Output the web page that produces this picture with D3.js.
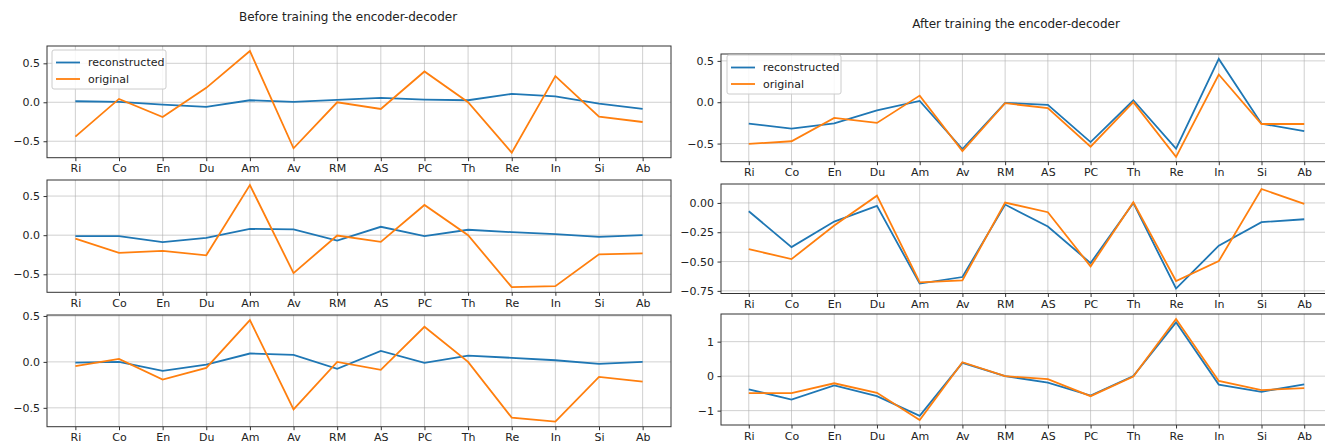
<!DOCTYPE html>
<meta charset="utf-8">
<script src="https://d3js.org/d3.v7.min.js"></script>
<style>
  body { margin: 0; background: #fff; }
  text { font-family: "DejaVu Sans", sans-serif; fill: #222; }
</style>
<div id="my_dataviz"></div>
<script>

// categories on the x axis
var categories = ["Ri","Co","En","Du","Am","Av","RM","AS","PC","Th","Re","In","Si","Ab"];

// before training (left column)
var before1Rec  = [0.013, 0.004, -0.03, -0.06, 0.026, 0.005, 0.03, 0.056, 0.035, 0.026, 0.107, 0.077, -0.017, -0.086];
var before1Orig = [-0.44, 0.043, -0.19, 0.185, 0.657, -0.59, 0.0, -0.086, 0.395, 0.0, -0.646, 0.335, -0.185, -0.253];
var before2Rec  = [-0.013, -0.013, -0.09, -0.034, 0.08, 0.073, -0.069, 0.107, -0.013, 0.069, 0.039, 0.013, -0.021, 0.0];
var before2Orig = [-0.043, -0.227, -0.2, -0.257, 0.64, -0.485, -0.004, -0.086, 0.386, 0.0, -0.665, -0.652, -0.245, -0.232];
var before3Rec  = [-0.007, 0.0, -0.098, -0.029, 0.091, 0.076, -0.076, 0.12, -0.011, 0.069, 0.044, 0.018, -0.022, 0.0];
var before3Orig = [-0.047, 0.033, -0.193, -0.065, 0.455, -0.516, 0.0, -0.087, 0.382, 0.0, -0.607, -0.65, -0.164, -0.215];

// after training (right column)
var after1Rec  = [-0.259, -0.319, -0.255, -0.1, 0.016, -0.566, -0.008, -0.032, -0.482, 0.024, -0.56, 0.524, -0.259, -0.35];
var after1Orig = [-0.504, -0.472, -0.19, -0.25, 0.08, -0.59, -0.012, -0.072, -0.538, 0.0, -0.66, 0.335, -0.263, -0.263];
var after2Rec  = [-0.071, -0.377, -0.159, -0.025, -0.688, -0.632, -0.014, -0.201, -0.513, 0.0, -0.73, -0.365, -0.164, -0.139];
var after2Orig = [-0.394, -0.479, -0.193, 0.062, -0.677, -0.66, 0.003, -0.079, -0.541, 0.006, -0.666, -0.496, 0.119, -0.008];
var after3Rec  = [-0.384, -0.68, -0.266, -0.58, -1.153, 0.384, 0.0, -0.187, -0.562, 0.0, 1.56, -0.246, -0.453, -0.236];
var after3Orig = [-0.493, -0.493, -0.207, -0.483, -1.27, 0.404, 0.0, -0.089, -0.581, -0.01, 1.655, -0.138, -0.404, -0.345];

// y tick values
var ticksHalf    = [-0.5, 0, 0.5];
var ticksQuarter = [-0.75, -0.5, -0.25, 0];
var ticksOne     = [-1, 0, 1];

var titles = ["Before training the encoder-decoder", "After training the encoder-decoder"];
var legendLabels = ["reconstructed", "original"];

var blue = "#1f77b4", orange = "#ff7f0e";

var svg = d3.select("#my_dataviz")
  .append("svg")
    .attr("width", 1325)
    .attr("height", 443);

function minusFmt(f) {
  return function(d) { return d3.format(f)(d).replace("-", "\u2212"); };
}

var panels = [
  {x0: 47, x1: 671, y0: 46, y1: 157.7, rec: before1Rec, orig: before1Orig, ticks: ticksHalf, fmt: minusFmt(".1f"), legend: {x: 52, y: 50}},
  {x0: 47, x1: 671, y0: 180, y1: 292.3, rec: before2Rec, orig: before2Orig, ticks: ticksHalf, fmt: minusFmt(".1f")},
  {x0: 47, x1: 671, y0: 315, y1: 426.7, rec: before3Rec, orig: before3Orig, ticks: ticksHalf, fmt: minusFmt(".1f")},
  {x0: 721, x1: 1332, y0: 54, y1: 161.7, rec: after1Rec, orig: after1Orig, ticks: ticksHalf, fmt: minusFmt(".1f"), legend: {x: 727, y: 55}},
  {x0: 721, x1: 1332, y0: 184, y1: 293.5, rec: after2Rec, orig: after2Orig, ticks: ticksQuarter, fmt: d3.format(".2f")},
  {x0: 721, x1: 1332, y0: 314, y1: 425, rec: after3Rec, orig: after3Orig, ticks: ticksOne, fmt: minusFmt("d")}
];

panels.forEach(function(p) {
  var n = categories.length;
  var w = p.x1 - p.x0, h = p.y1 - p.y0;
  // matplotlib-like 5% margins
  var x = d3.scalePoint()
    .domain(categories)
    .range([w * 0.05 / 1.1, w - w * 0.05 / 1.1]);
  var ext = d3.extent(p.rec.concat(p.orig));
  var pad = (ext[1] - ext[0]) * 0.05;
  var y = d3.scaleLinear()
    .domain([ext[0] - pad, ext[1] + pad])
    .range([h, 0]);

  var g = svg.append("g")
    .attr("transform", "translate(" + p.x0 + "," + p.y0 + ")");

  // clip to the visible area
  var clipId = "clip" + p.x0 + "_" + p.y0;
  g.append("clipPath").attr("id", clipId)
    .append("rect").attr("width", w).attr("height", h);

  // grid
  g.selectAll(".vg").data(categories).enter().append("line")
    .attr("x1", function(d) { return x(d); })
    .attr("x2", function(d) { return x(d); })
    .attr("y1", 0).attr("y2", h)
    .attr("stroke", "#b0b0b0").attr("stroke-opacity", 0.6).attr("stroke-width", 1);
  g.selectAll(".hg").data(p.ticks).enter().append("line")
    .attr("x1", 0).attr("x2", w)
    .attr("y1", function(d) { return y(d); })
    .attr("y2", function(d) { return y(d); })
    .attr("stroke", "#b0b0b0").attr("stroke-opacity", 0.6).attr("stroke-width", 1);

  // axes
  var xa = g.append("g")
    .attr("transform", "translate(0," + h + ")")
    .call(d3.axisBottom(x).tickSize(3.5).tickPadding(3.5));
  var ya = g.append("g")
    .call(d3.axisLeft(y).tickValues(p.ticks).tickFormat(p.fmt).tickSize(3.5).tickPadding(3.5));
  [xa, ya].forEach(function(a) {
    a.select(".domain").remove();
    a.selectAll("line").attr("stroke", "#333");
    a.selectAll("text").style("font-size", "11px").attr("fill", "#333")
      .style("font-family", "'DejaVu Sans', sans-serif");
  });

  // lines
  var line = d3.line()
    .x(function(d, i) { return x(categories[i]); })
    .y(function(d) { return y(d); });
  var lg = g.append("g").attr("clip-path", "url(#" + clipId + ")");
  lg.append("path").datum(p.rec)
    .attr("d", line).attr("fill", "none")
    .attr("stroke", blue).attr("stroke-width", 1.8);
  lg.append("path").datum(p.orig)
    .attr("d", line).attr("fill", "none")
    .attr("stroke", orange).attr("stroke-width", 1.8);

  // frame
  g.append("rect")
    .attr("width", w).attr("height", h)
    .attr("fill", "none").attr("stroke", "#333").attr("stroke-width", 1);

  // legend
  if (p.legend) {
    var L = svg.append("g")
      .attr("transform", "translate(" + p.legend.x + "," + p.legend.y + ")");
    L.append("rect")
      .attr("width", 114).attr("height", 39).attr("rx", 2)
      .attr("fill", "white").attr("fill-opacity", 0.85)
      .attr("stroke", "#ccc");
    legendLabels.forEach(function(lbl, i) {
      var yy = 12.5 + i * 16.5;
      L.append("line")
        .attr("x1", 4).attr("x2", 28).attr("y1", yy).attr("y2", yy)
        .attr("stroke", i === 0 ? blue : orange).attr("stroke-width", 1.8);
      L.append("text")
        .attr("x", 36).attr("y", yy).attr("dy", "0.35em")
        .style("font-size", "11px")
        .text(lbl);
    });
  }
});

// titles
svg.append("text")
  .attr("x", 348).attr("y", 17).attr("dy", "0.35em")
  .attr("text-anchor", "middle").style("font-size", "12px")
  .text(titles[0]);
svg.append("text")
  .attr("x", 1016).attr("y", 24).attr("dy", "0.35em")
  .attr("text-anchor", "middle").style("font-size", "12px")
  .text(titles[1]);

</script>
